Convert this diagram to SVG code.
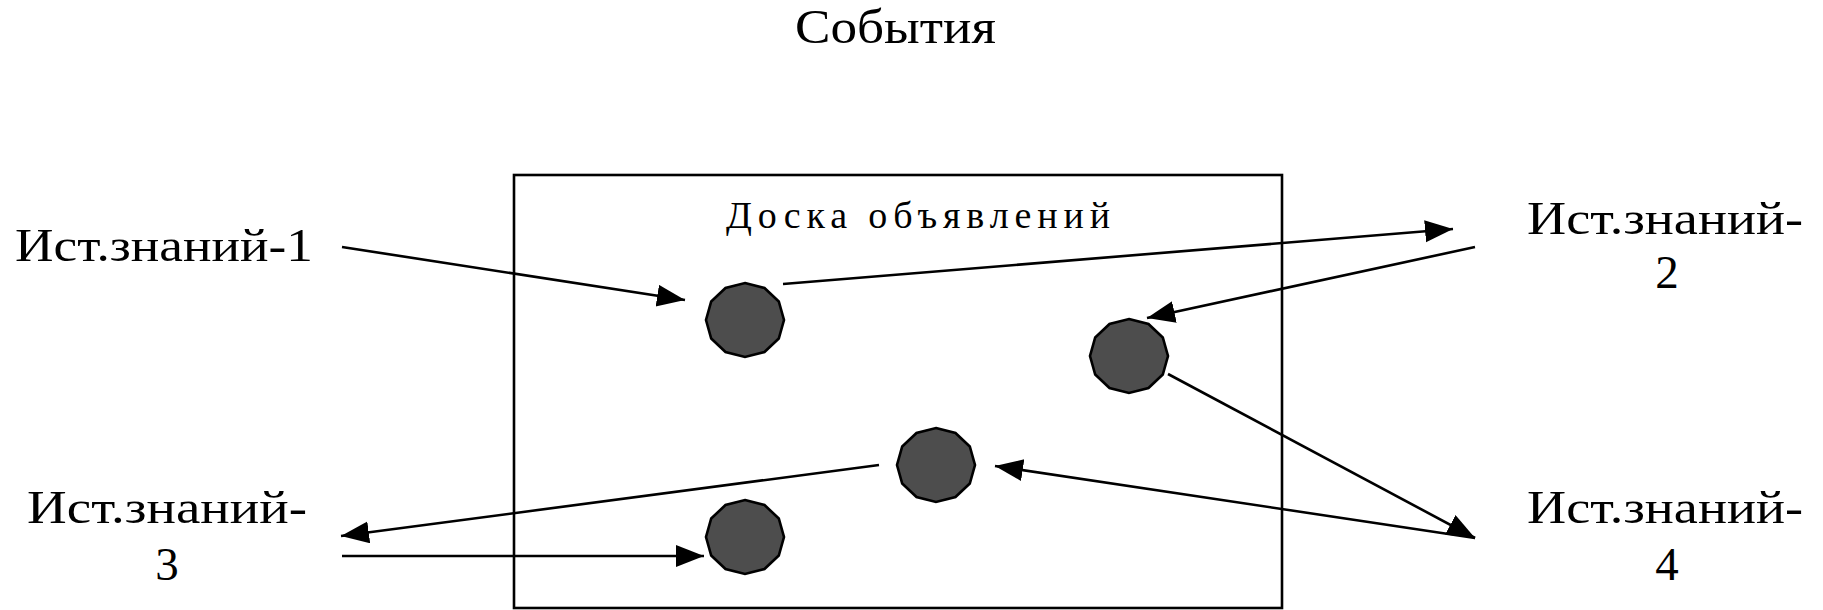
<svg xmlns="http://www.w3.org/2000/svg" width="1823" height="610" viewBox="0 0 1823 610">
<defs>
<style>
.t{font-family:"Liberation Serif","Times New Roman",serif;fill:#000}
.lbl{font-size:47px}
.ln{stroke:#000;stroke-width:2.6;fill:none;marker-end:url(#ah)}
.ev{fill:#4d4d4d;stroke:#000;stroke-width:2.6}
</style>
<marker id="ah" markerUnits="userSpaceOnUse" markerWidth="30" markerHeight="24" refX="28" refY="11" orient="auto" viewBox="0 0 30 24">
<path d="M0,0 L28,11 L0,22 z" fill="#000"/>
</marker>
<polygon id="oct" points="0,-37 19.5,-32 33.8,-18.5 39,0 33.8,18.5 19.5,32 0,37 -19.5,32 -33.8,18.5 -39,0 -33.8,-18.5 -19.5,-32"/>
</defs>
<rect width="1823" height="610" fill="#fff"/>
<g id="title"><text class="t" x="795" y="43" font-size="48" textLength="201" lengthAdjust="spacingAndGlyphs">События</text></g>
<g id="board">
<rect x="514" y="175" width="768" height="433" fill="none" stroke="#000" stroke-width="2.6"/>
<text class="t" x="726" y="228" font-size="38" textLength="384" lengthAdjust="spacing">Доска объявлений</text>
</g>
<g id="src1"><text class="t lbl" x="15" y="261" textLength="298" lengthAdjust="spacingAndGlyphs">Ист.знаний-1</text></g>
<g id="src2"><text class="t lbl" x="1527" y="234" textLength="276" lengthAdjust="spacingAndGlyphs">Ист.знаний-</text><text class="t lbl" x="1667" y="288" text-anchor="middle">2</text></g>
<g id="src3"><text class="t lbl" x="27" y="523" textLength="280" lengthAdjust="spacingAndGlyphs">Ист.знаний-</text><text class="t lbl" x="167" y="580" text-anchor="middle">3</text></g>
<g id="src4"><text class="t lbl" x="1527" y="523" textLength="276" lengthAdjust="spacingAndGlyphs">Ист.знаний-</text><text class="t lbl" x="1667" y="580" text-anchor="middle">4</text></g>
<g id="ev1"><use href="#oct" class="ev" x="745" y="320"/></g>
<g id="ev2"><use href="#oct" class="ev" x="1129" y="356"/></g>
<g id="ev3"><use href="#oct" class="ev" x="936" y="465"/></g>
<g id="ev4"><use href="#oct" class="ev" x="745" y="537"/></g>
<g id="connectors">
<line class="ln" x1="342" y1="247" x2="685" y2="300"/>
<line class="ln" x1="783" y1="284" x2="1453" y2="229"/>
<line class="ln" x1="1475" y1="247" x2="1147" y2="318"/>
<line class="ln" x1="1168" y1="374" x2="1475" y2="538"/>
<line class="ln" x1="1475" y1="538" x2="995" y2="466"/>
<line class="ln" x1="879" y1="465" x2="341" y2="536"/>
<line class="ln" x1="342" y1="556" x2="704" y2="556"/>
</g>
</svg>
